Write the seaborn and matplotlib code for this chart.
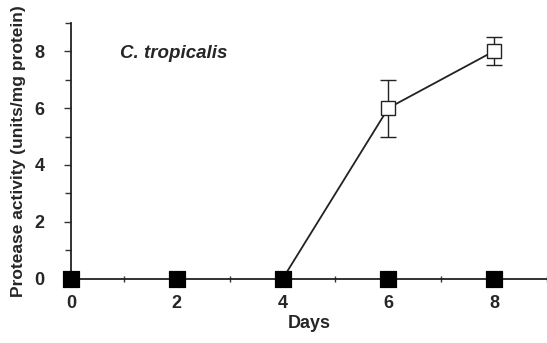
import matplotlib
matplotlib.use("Agg")
import matplotlib.pyplot as plt
import seaborn as sns
import pandas as pd
from matplotlib.ticker import MultipleLocator

sns.set_theme(style="ticks")
plt.rcParams['font.family'] = ['Liberation Sans', 'DejaVu Sans']

days = [0, 2, 4, 6, 8]
control = [0, 0, 0, 0, 0]
open_days = [4, 6, 8]
open_vals = [0, 6, 8]
err_days = [6, 8]
err_vals = [6, 8]
err_sd = [1.0, 0.5]

fig = plt.figure(figsize=(5.47, 3.43), dpi=100)
ax = fig.add_axes([0.13, 0.187, 0.87, 0.747])

df_open = pd.DataFrame({"day": open_days, "val": open_vals})
df_ctrl = pd.DataFrame({"day": days, "val": control})

ax.errorbar(err_days, err_vals, yerr=err_sd, fmt='none', ecolor='#222222',
            elinewidth=1.0, capsize=6, capthick=1.0, zorder=2)
sns.lineplot(data=df_open, x="day", y="val", ax=ax, color='#222222', linewidth=1.3,
             marker='s', markersize=10, markerfacecolor='white', markeredgecolor='#222222',
             markeredgewidth=1.0, zorder=3)
sns.scatterplot(data=df_ctrl, x="day", y="val", ax=ax, marker='s', s=120, color='black',
                edgecolor='black', zorder=5, clip_on=False)
for c in ax.collections:
    c.set_clip_on(False)

ax.set_xlim(0, 9)
ax.set_ylim(0, 9)
ax.xaxis.set_major_locator(MultipleLocator(2))
ax.xaxis.set_minor_locator(MultipleLocator(1))
ax.yaxis.set_major_locator(MultipleLocator(2))
ax.yaxis.set_minor_locator(MultipleLocator(1))
ax.tick_params(axis='both', which='major', labelsize=13, width=1.0, length=5, color='#333333')
ax.tick_params(axis='both', which='minor', width=1.0, length=4, color='#333333')
ax.tick_params(axis='x', which='both', direction='inout', pad=9)
ax.tick_params(axis='y', which='both', pad=14)
for lab in ax.get_xticklabels() + ax.get_yticklabels():
    lab.set_fontweight('bold')

sns.despine(ax=ax)
ax.spines['left'].set_linewidth(1.3)
ax.spines['bottom'].set_linewidth(1.3)
ax.spines['left'].set_color('#222222')
ax.spines['bottom'].set_color('#222222')

ax.set_xlabel("Days", fontsize=13, fontweight='bold', labelpad=2)
ax.set_ylabel("Protease activity (units/mg protein)", fontsize=12.5, fontweight='bold', labelpad=6)
ax.text(0.92, 7.9, "C. tropicalis", fontsize=13.5, fontweight='bold', style='italic', va='center')

fig.savefig("out.png", dpi=100)
